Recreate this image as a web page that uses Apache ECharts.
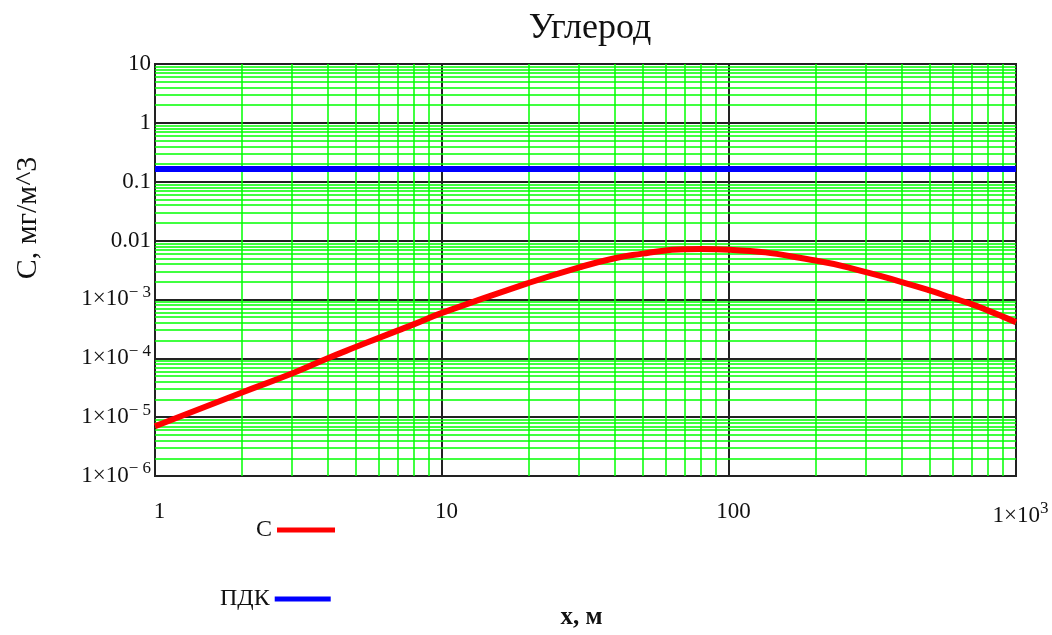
<!DOCTYPE html>
<html>
<head>
<meta charset="utf-8">
<script src="https://cdn.jsdelivr.net/npm/echarts@6/dist/echarts.min.js"></script>
<style>
  html, body { margin: 0; padding: 0; background: #fff; }
  #chart { width: 1052px; height: 635px; }
</style>
</head>
<body>
<div id="chart"></div>
<script>
// расстояние x, м
const xValues = [1, 2, 3, 4, 5, 6, 7, 8, 10, 20, 30, 40, 50, 60, 70, 80, 100,
  200, 300, 400, 500, 600, 700, 800, 900, 1000];
// концентрация C, мг/м^3
const cValues = [7.0e-6, 2.6e-5, 5.5e-5, 1.0e-4, 1.55e-4, 2.2e-4, 2.95e-4, 3.8e-4, 5.9e-4,
  1.9e-3, 3.5e-3, 5.0e-3, 6.0e-3, 6.8e-3, 7.1e-3, 7.2e-3, 7.0e-3,
  4.6e-3, 2.9e-3, 1.97e-3, 1.42e-3, 1.06e-3, 8.3e-4, 6.45e-4, 5.1e-4, 4.1e-4];
const pdkX = [1, 1000];
const pdkValue = 0.165;

const xRange = [1, 1000];
const yRange = [1e-6, 10];
const xDecades = [1, 10, 100];
const yDecades = [1e-6, 1e-5, 1e-4, 1e-3, 0.01, 0.1, 1];

const serif = 'Liberation Serif';

function minorLines(decades) {
  const out = [];
  decades.forEach(function (d) {
    for (let k = 2; k <= 9; k++) out.push(d * k);
  });
  return out;
}

function sciLabel(v, plainFrom) {
  const e = Math.round(Math.log10(v));
  if (e >= plainFrom && e <= 2 && !(plainFrom < 0 && e > 1)) {
    return e >= 0 ? String(Math.pow(10, e)) : Math.pow(10, e).toFixed(-e);
  }
  const sup = e < 0 ? '\u2212 ' + (-e) : String(e);
  return '{a|1\u00d710}{s|' + sup + '}';
}

const richLabel = {
  a: { fontFamily: serif, fontSize: 23, color: '#111' },
  s: { fontFamily: serif, fontSize: 17, color: '#111', padding: [0, 0, 14, 0] }
};

// minor grid lines (2..9 inside every decade)
const gridLines = minorLines(xDecades).map(function (v) {
  return { coords: [[v, yRange[0]], [v, yRange[1]]] };
}).concat(minorLines(yDecades).map(function (v) {
  return { coords: [[xRange[0], v], [xRange[1], v]] };
}));

const chart = echarts.init(document.getElementById('chart'));

chart.setOption({
  animation: false,
  backgroundColor: '#fff',
  title: {
    text: 'Углерод',
    left: 585,
    top: 6,
    textAlign: 'center',
    textStyle: { fontFamily: serif, fontSize: 36, fontWeight: 'normal', color: '#111' }
  },
  legend: [
    {
      data: ['C'],
      left: 251,
      top: 513,
      align: 'right',
      icon: 'rect',
      itemWidth: 58,
      itemHeight: 5,
      textStyle: { fontFamily: serif, fontSize: 24, color: '#111' }
    },
    {
      data: ['ПДК'],
      left: 215,
      top: 582,
      align: 'right',
      icon: 'rect',
      itemWidth: 56,
      itemHeight: 5,
      textStyle: { fontFamily: serif, fontSize: 24, color: '#111' }
    }
  ],
  grid: {
    left: 155,
    right: 36,
    top: 64,
    bottom: 155,
    show: true,
    borderColor: '#222',
    borderWidth: 2
  },
  xAxis: {
    type: 'log',
    logBase: 10,
    min: xRange[0],
    max: xRange[1],
    interval: 1,
    name: 'x, м',
    nameLocation: 'middle',
    nameGap: 129,
    nameTextStyle: { fontFamily: serif, fontSize: 25, fontWeight: 'bold', color: '#111', padding: [0, 0, 0, -8] },
    axisLine: { lineStyle: { color: '#222', width: 2 } },
    axisTick: { show: false },
    axisLabel: {
      margin: 24,
      fontFamily: serif,
      fontSize: 23,
      color: '#111',
      padding: [0, 0, 0, 9],
      formatter: function (v) { return sciLabel(v, 0); },
      rich: richLabel
    },
    splitLine: { show: true, lineStyle: { color: '#222', width: 2 } }
  },
  yAxis: {
    type: 'log',
    logBase: 10,
    min: yRange[0],
    max: yRange[1],
    interval: 1,
    axisLine: { lineStyle: { color: '#222', width: 2 } },
    axisTick: { show: false },
    axisLabel: {
      margin: 4,
      fontFamily: serif,
      fontSize: 23,
      color: '#111',
      formatter: function (v) { return sciLabel(v, -2); },
      rich: richLabel
    },
    splitLine: { show: true, lineStyle: { color: '#222', width: 2 } }
  },
  graphic: [
    {
      type: 'text',
      x: 28,
      y: 218,
      rotation: Math.PI / 2,
      style: {
        text: 'C, мг/м^3',
        fontFamily: serif,
        fontSize: 30,
        fill: '#111',
        align: 'center',
        verticalAlign: 'middle'
      }
    }
  ],
  series: [
    {
      name: 'grid',
      type: 'lines',
      coordinateSystem: 'cartesian2d',
      silent: true,
      z: 1,
      lineStyle: { color: '#00ff00', width: 1.5, opacity: 1 },
      data: gridLines
    },
    {
      name: 'C',
      type: 'line',
      data: xValues.map(function (x, i) { return [x, cValues[i]]; }),
      smooth: true,
      showSymbol: false,
      z: 4,
      itemStyle: { color: '#ff0000' },
      lineStyle: { color: '#ff0000', width: 6 }
    },
    {
      name: 'ПДК',
      type: 'line',
      data: pdkX.map(function (x) { return [x, pdkValue]; }),
      showSymbol: false,
      z: 4,
      itemStyle: { color: '#0000ff' },
      lineStyle: { color: '#0000ff', width: 6 }
    }
  ]
});

window.addEventListener('resize', function () {
  chart.resize();
});
</script>
</body>
</html>
